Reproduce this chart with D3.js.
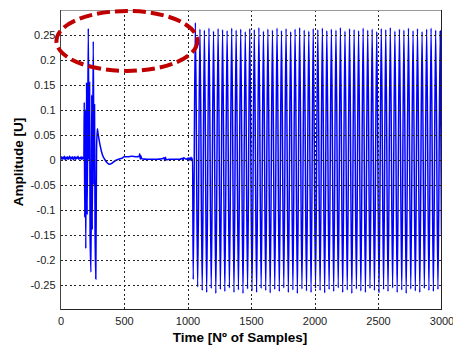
<!DOCTYPE html>
<html>
<head>
<meta charset="utf-8">
<script src="https://cdn.jsdelivr.net/npm/d3@7"></script>
<style>
  html, body { margin: 0; padding: 0; background: #fff; }
  svg { display: block; font-family: "Liberation Sans", Arial, sans-serif; }
</style>
</head>
<body>
<svg id="chart" width="453" height="350"></svg>
<script>
// ---------- data ----------
const xTicks = [0, 500, 1000, 1500, 2000, 2500, 3000];
const yTicks = [-0.25, -0.2, -0.15, -0.1, -0.05, 0, 0.05, 0.1, 0.15, 0.2, 0.25];
const xDomain = [0, 3000];
const yDomain = [-0.3, 0.3];
const xLabel = "Time [Nº of Samples]";
const yLabel = "Amplitude [U]";

// quiet baseline before the first burst [sample, value]
const baseline = [
  [0, 0.003], [6, 0.006], [12, 0.001], [18, 0.005], [24, 0.002], [30, 0.007], [36, 0.000],
  [42, 0.005], [48, 0.002], [54, 0.006], [60, 0.001], [66, 0.004], [72, 0.007], [78, 0.001],
  [84, 0.005], [90, 0.002], [96, 0.006], [102, 0.000], [108, 0.004], [114, 0.006], [120, 0.001],
  [126, 0.005], [132, 0.003], [138, 0.007], [144, 0.001], [150, 0.004], [156, 0.002], [162, 0.006],
  [168, 0.001], [174, 0.005], [180, 0.002]
];
// first burst and its decay
const burst = [
  [184, 0.003], [187, 0.115], [191, -0.115], [195, 0.1], [199, -0.178], [205, 0.155],
  [210, -0.11], [219, 0.263], [224, 0.0], [229, 0.155], [233, -0.15], [240, -0.225],
  [246, 0.13], [250, -0.14], [258, 0.237], [264, -0.05], [268, 0.11], [272, -0.14],
  [278, -0.239], [284, 0.02], [290, 0.062], [296, 0.052], [311, 0.03], [330, 0.01],
  [350, 0.0], [368, -0.006], [385, -0.009], [405, -0.007], [430, -0.002], [468, 0.002]
];
// settled segment between the bursts
const settle = [
  [490, 0.004], [500, 0.006], [530, 0.006], [560, 0.007], [600, 0.006], [620, 0.007],
  [624, 0.012], [628, 0.001], [632, 0.008], [640, 0.002], [680, 0.001], [720, 0.001],
  [760, 0.001], [800, 0.002], [815, 0.004], [820, -0.002], [826, 0.005], [832, 0.0],
  [860, 0.001], [900, 0.001], [940, 0.001], [960, 0.003], [965, -0.001], [970, 0.004],
  [990, 0.001], [1000, 0.003], [1005, -0.002], [1012, 0.004], [1020, -0.001],
  [1028, 0.005], [1034, -0.002], [1040, 0.003]
];
// sustained oscillation: peaks and troughs
const oscTopSamples = [
  1062, 1098, 1133, 1169, 1205, 1241, 1276, 1312, 1348, 1383, 1419, 1455, 1490, 1526,
  1562, 1598, 1633, 1669, 1705, 1740, 1776, 1812, 1847, 1883, 1919, 1955, 1990, 2026,
  2062, 2097, 2133, 2169, 2204, 2240, 2276, 2312, 2347, 2383, 2419, 2454, 2490, 2526,
  2561, 2597, 2633, 2669, 2704, 2740, 2776, 2811, 2847, 2883, 2918, 2954, 2990
];
const oscTopValues = [
  0.275, 0.262, 0.26, 0.264, 0.258, 0.263, 0.261, 0.259, 0.264, 0.26, 0.262, 0.257, 0.263,
  0.261, 0.265, 0.258, 0.262, 0.26, 0.264, 0.259, 0.263, 0.257, 0.262, 0.265, 0.26, 0.258,
  0.263, 0.261, 0.264, 0.259, 0.262, 0.26, 0.265, 0.258, 0.263, 0.261, 0.259, 0.264, 0.26,
  0.262, 0.257, 0.263, 0.261, 0.265, 0.258, 0.262, 0.26, 0.264, 0.259, 0.263, 0.257, 0.262,
  0.264, 0.26, 0.258
];
const oscTroughSamples = [
  1045, 1080, 1116, 1151, 1187, 1223, 1259, 1294, 1330, 1366, 1401, 1437, 1473, 1508,
  1544, 1580, 1616, 1651, 1687, 1723, 1758, 1794, 1830, 1865, 1901, 1937, 1973, 2008,
  2044, 2080, 2115, 2151, 2187, 2222, 2258, 2294, 2330, 2365, 2401, 2437, 2472, 2508,
  2544, 2579, 2615, 2651, 2687, 2722, 2758, 2794, 2829, 2865, 2901, 2936, 2972
];
const oscTroughValues = [
  -0.24, -0.255, -0.262, -0.266, -0.258, -0.268, -0.26, -0.264, -0.257, -0.266, -0.261,
  -0.268, -0.259, -0.263, -0.266, -0.258, -0.262, -0.267, -0.26, -0.264, -0.257, -0.266,
  -0.261, -0.268, -0.259, -0.263, -0.266, -0.258, -0.262, -0.267, -0.26, -0.264, -0.257,
  -0.266, -0.261, -0.268, -0.259, -0.263, -0.266, -0.258, -0.262, -0.267, -0.26, -0.264,
  -0.257, -0.266, -0.261, -0.268, -0.259, -0.263, -0.266, -0.258, -0.262, -0.264, -0.26
];
const endPoint = [3000, -0.15];

// annotation ellipse: centre [sample, value], radii [samples, value units]
const ellipseCenter = [523, 0.238];
const ellipseRadii = [555, 0.06];

// ---------- build series ----------
const osc = [];
oscTopSamples.forEach((s, i) => osc.push([s, oscTopValues[i]]));
oscTroughSamples.forEach((s, i) => osc.push([s, oscTroughValues[i]]));
const series = baseline.concat(burst, settle, osc, [endPoint]).sort((a, b) => a[0] - b[0]);

// ---------- layout ----------
const svg = d3.select("#chart");
const plot = { left: 60.5, right: 441.5, top: 10, bottom: 309.5 };
const x = d3.scaleLinear().domain(xDomain).range([plot.left, plot.right]);
const y = d3.scaleLinear().domain(yDomain).range([plot.bottom, plot.top]);

svg.append("defs").append("clipPath").attr("id", "clip")
  .append("rect")
  .attr("x", plot.left).attr("y", plot.top)
  .attr("width", plot.right - plot.left).attr("height", plot.bottom - plot.top);

// data line
svg.append("path")
  .datum(series)
  .attr("clip-path", "url(#clip)")
  .attr("fill", "none")
  .attr("stroke", "#0000ff")
  .attr("stroke-width", 1.5)
  .attr("d", d3.line().curve(d3.curveMonotoneX).x(d => x(d[0])).y(d => y(d[1])));

// grid (drawn over data, dotted)
const grid = svg.append("g").attr("stroke", "#222").attr("stroke-width", 1)
  .attr("stroke-dasharray", "2,2.5").attr("shape-rendering", "crispEdges");
grid.selectAll("line.h").data(yTicks).enter().append("line")
  .attr("x1", plot.left).attr("x2", plot.right)
  .attr("y1", d => Math.round(y(d)) + 0.5).attr("y2", d => Math.round(y(d)) + 0.5);
grid.selectAll("line.v").data(xTicks.filter(d => d > xDomain[0] && d < xDomain[1])).enter().append("line")
  .attr("y1", plot.top).attr("y2", plot.bottom)
  .attr("x1", d => Math.round(x(d)) + 0.5).attr("x2", d => Math.round(x(d)) + 0.5);

// axes (labels only, MATLAB style)
const xAxis = svg.append("g").attr("transform", `translate(0,${plot.bottom})`)
  .call(d3.axisBottom(x).tickValues(xTicks).tickSize(0).tickPadding(8).tickFormat(d3.format("d")));
xAxis.select(".domain").remove();
const yAxis = svg.append("g").attr("transform", `translate(${plot.left},0)`)
  .call(d3.axisLeft(y).tickValues(yTicks).tickSize(0).tickPadding(5).tickFormat(d => d === 0 ? "0" : String(+d.toFixed(2))));
yAxis.select(".domain").remove();
svg.selectAll(".tick text").attr("font-size", 11).attr("fill", "#222")
  .attr("font-family", "'Liberation Sans', Arial, sans-serif");

// frame
svg.append("line").attr("x1", plot.left).attr("x2", plot.right).attr("y1", plot.top).attr("y2", plot.top)
  .attr("stroke", "#999").attr("shape-rendering", "crispEdges");
svg.append("line").attr("x1", plot.left).attr("x2", plot.right).attr("y1", plot.bottom).attr("y2", plot.bottom)
  .attr("stroke", "#222").attr("shape-rendering", "crispEdges");
svg.append("line").attr("x1", plot.left).attr("x2", plot.left).attr("y1", plot.top).attr("y2", plot.bottom)
  .attr("stroke", "#444").attr("shape-rendering", "crispEdges");
svg.append("line").attr("x1", plot.right).attr("x2", plot.right).attr("y1", plot.top).attr("y2", plot.bottom)
  .attr("stroke", "#222").attr("shape-rendering", "crispEdges");

// axis titles
svg.append("text").attr("x", 240).attr("y", 342).attr("text-anchor", "middle")
  .attr("font-size", 13.5).attr("font-weight", "bold").attr("fill", "#000").text(xLabel);
svg.append("text").attr("transform", "translate(23,162) rotate(-90)").attr("text-anchor", "middle")
  .attr("font-size", 13.5).attr("font-weight", "bold").attr("fill", "#000").text(yLabel);

// annotation ellipse
svg.append("ellipse")
  .attr("cx", x(ellipseCenter[0])).attr("cy", y(ellipseCenter[1]))
  .attr("rx", x(ellipseRadii[0]) - x(0)).attr("ry", y(0) - y(ellipseRadii[1]))
  .attr("fill", "none").attr("stroke", "#c00000").attr("stroke-width", 4)
  .attr("stroke-dasharray", "13,5");
</script>
</body>
</html>
